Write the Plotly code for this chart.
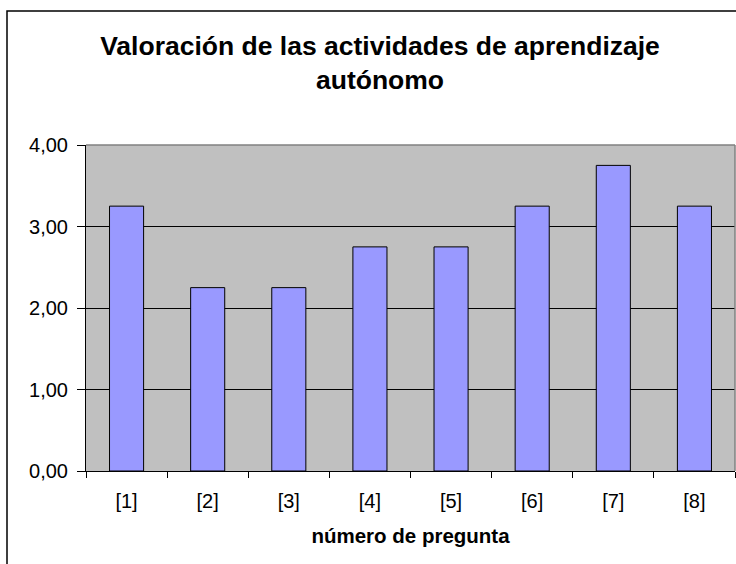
import plotly.graph_objects as go

categories = ["[1]", "[2]", "[3]", "[4]", "[5]", "[6]", "[7]", "[8]"]
values = [3.25, 2.25, 2.25, 2.75, 2.75, 3.25, 3.75, 3.25]
y_ticks = [0, 1, 2, 3, 4]
y_tick_labels = ["0,00", "1,00", "2,00", "3,00", "4,00"]

FONT = "Liberation Sans, Arial, sans-serif"

fig = go.Figure()
fig.add_trace(go.Bar(
    x=categories, y=values,
    marker=dict(color="#9999FF", line=dict(color="black", width=1)),
))

fig.update_layout(
    width=736, height=564,
    margin=dict(l=86, r=1, t=145, b=93),
    paper_bgcolor="white",
    plot_bgcolor="#C0C0C0",
    bargap=0.58,
    showlegend=False,
    font=dict(family=FONT, color="black", size=20),
    title=dict(
        text="<b>Valoración de las actividades de aprendizaje<br>autónomo</b>",
        x=380 / 736, xanchor="center", y=1 - 55 / 564, yanchor="middle",
        font=dict(family=FONT, size=26.5, color="black"),
    ),
)

fig.update_xaxes(
    showline=True, linecolor="black", linewidth=1,
    ticks="outside", ticklen=6, tickcolor="black", tickson="boundaries",
    ticklabelstandoff=12,
    showgrid=False,
    title=dict(text="<b>número de pregunta</b>", font=dict(size=20.5), standoff=17),
)
fig.update_yaxes(
    range=[0, 4], tickvals=y_ticks, ticktext=y_tick_labels,
    showline=True, linecolor="black", linewidth=1,
    ticks="outside", ticklen=8, tickcolor="black", ticklabelstandoff=5,
    showgrid=True, gridcolor="black", gridwidth=1, zeroline=False,
)

# plot-area top and right border (gray) and outer chart frame
fig.add_shape(type="line", xref="paper", yref="paper", x0=0, x1=1, y0=1, y1=1,
              line=dict(color="#808080", width=1.5), layer="above")
fig.add_shape(type="line", xref="paper", yref="paper", x0=1, x1=1, y0=0, y1=1,
              line=dict(color="#808080", width=1.5), layer="above")
fig.add_shape(type="rect", xref="paper", yref="paper",
              x0=(7 - 86) / 649, x1=(760 - 86) / 649,
              y0=(471 - 600) / 326, y1=(471 - 11) / 326,
              line=dict(color="black", width=1.5), fillcolor="rgba(0,0,0,0)", layer="above")

fig.write_html(
    "out.html",
    config={"displayModeBar": False},
    post_script="document.body.style.margin='0';document.body.style.overflow='hidden';",
)
